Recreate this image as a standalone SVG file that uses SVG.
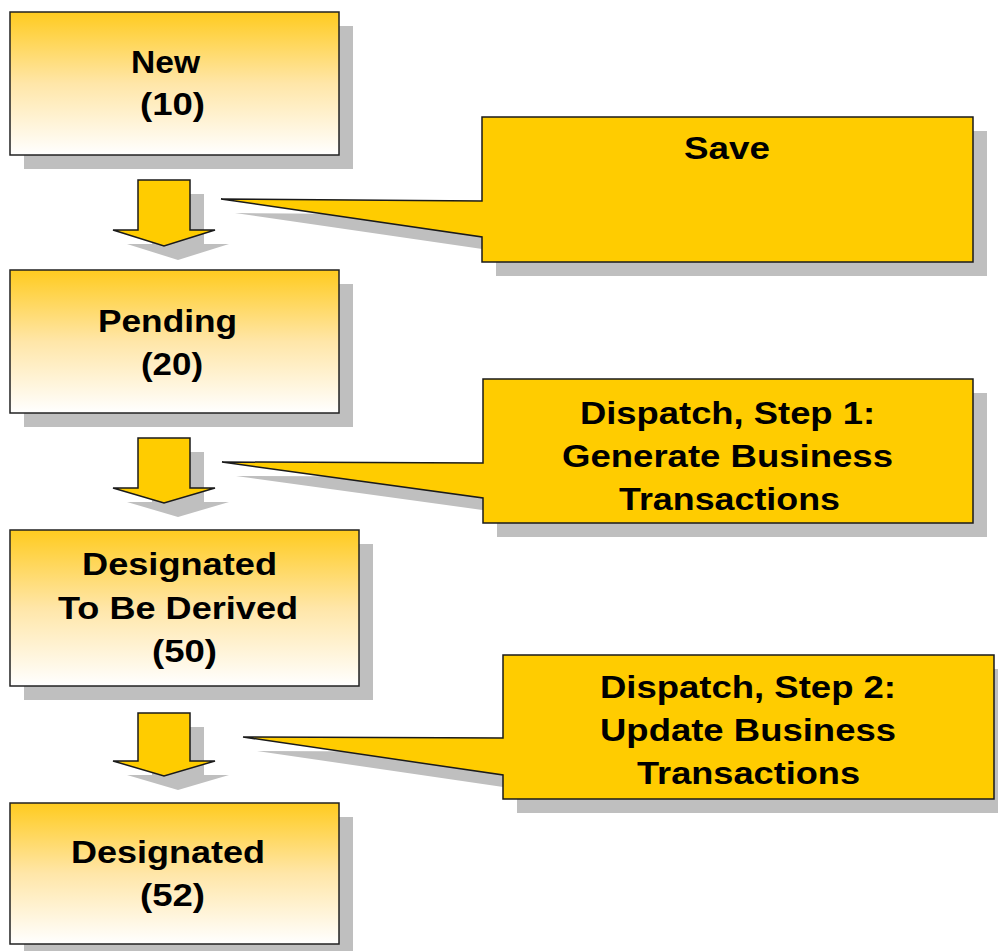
<svg xmlns="http://www.w3.org/2000/svg" width="998" height="951" viewBox="0 0 998 951">
<defs>
<linearGradient id="boxGrad" x1="0" y1="0" x2="0" y2="1">
<stop offset="0" stop-color="#FFCB1F"/>
<stop offset="0.5" stop-color="#FFE6A8"/>
<stop offset="1" stop-color="#FFFFFF"/>
</linearGradient>
</defs>
<style>
.shadow{fill:#BFBFBF;stroke:none}
.box{fill:url(#boxGrad);stroke:#222;stroke-width:1.5}
.callout{fill:#FFCC00;stroke:#1a1a1a;stroke-width:1.5;stroke-linejoin:miter}
.arrow{fill:#FFCC00;stroke:#1a1a1a;stroke-width:1.5}
text{font-family:"Liberation Sans",Arial,sans-serif;font-weight:bold;font-size:32px;fill:#000}
</style>
<rect width="998" height="951" fill="#fff"/>
<g id="shadows">
<rect class="shadow" x="24" y="26" width="329" height="143"/>
<rect class="shadow" x="24" y="284" width="329" height="143"/>
<rect class="shadow" x="24" y="544" width="349" height="156"/>
<rect class="shadow" x="24" y="817" width="329" height="141"/>
<path class="shadow" d="M152,194 H204 V244 H229 L178,260 L127,244 H152 Z"/>
<path class="shadow" d="M152,452 H204 V502 H229 L178,517 L127,502 H152 Z"/>
<path class="shadow" d="M152,727 H204 V775 H229 L178,790 L127,775 H152 Z"/>
<path class="shadow" d="M496,131 H987 V276 H496 V251 L235,213 L496,215 Z"/>
<path class="shadow" d="M497,393 H987 V537 H497 V512 L236,476 L497,477 Z"/>
<path class="shadow" d="M517,669 H1008 V813 H517 V789 L257,751 L517,752 Z"/>
</g>
<g id="connectors">
<path class="arrow" d="M138,180 H190 V230 H215 L164,246 L113,230 H138 Z"/>
<path class="arrow" d="M138,438 H190 V488 H215 L164,503 L113,488 H138 Z"/>
<path class="arrow" d="M138,713 H190 V761 H215 L164,776 L113,761 H138 Z"/>
</g>
<g id="node-new">
<rect class="box" x="10" y="12" width="329" height="143"/>
<text x="131" y="73" textLength="69" lengthAdjust="spacingAndGlyphs">New</text>
<text x="140" y="115" textLength="65" lengthAdjust="spacingAndGlyphs">(10)</text>
</g>
<g id="node-pending">
<rect class="box" x="10" y="270" width="329" height="143"/>
<text x="98" y="332" textLength="139" lengthAdjust="spacingAndGlyphs">Pending</text>
<text x="141" y="375" textLength="62" lengthAdjust="spacingAndGlyphs">(20)</text>
</g>
<g id="node-designated-to-be-derived">
<rect class="box" x="10" y="530" width="349" height="156"/>
<text x="82" y="575" textLength="195" lengthAdjust="spacingAndGlyphs">Designated</text>
<text x="58" y="619" textLength="240" lengthAdjust="spacingAndGlyphs">To Be Derived</text>
<text x="152" y="662" textLength="65" lengthAdjust="spacingAndGlyphs">(50)</text>
</g>
<g id="node-designated">
<rect class="box" x="10" y="803" width="329" height="141"/>
<text x="71" y="863" textLength="194" lengthAdjust="spacingAndGlyphs">Designated</text>
<text x="140" y="906" textLength="65" lengthAdjust="spacingAndGlyphs">(52)</text>
</g>
<g id="callout-save">
<path class="callout" d="M482,117 H973 V262 H482 V237 L221,199 L482,201 Z"/>
<text x="684" y="159" textLength="86" lengthAdjust="spacingAndGlyphs">Save</text>
</g>
<g id="callout-dispatch-1">
<path class="callout" d="M483,379 H973 V523 H483 V498 L222,462 L483,463 Z"/>
<text x="580" y="424" textLength="295" lengthAdjust="spacingAndGlyphs">Dispatch, Step 1:</text>
<text x="562" y="467" textLength="331" lengthAdjust="spacingAndGlyphs">Generate Business</text>
<text x="619" y="510" textLength="221" lengthAdjust="spacingAndGlyphs">Transactions</text>
</g>
<g id="callout-dispatch-2">
<path class="callout" d="M503,655 H994 V799 H503 V775 L243,737 L503,738 Z"/>
<text x="600" y="698" textLength="296" lengthAdjust="spacingAndGlyphs">Dispatch, Step 2:</text>
<text x="600" y="741" textLength="296" lengthAdjust="spacingAndGlyphs">Update Business</text>
<text x="637" y="784" textLength="223" lengthAdjust="spacingAndGlyphs">Transactions</text>
</g>
</svg>
